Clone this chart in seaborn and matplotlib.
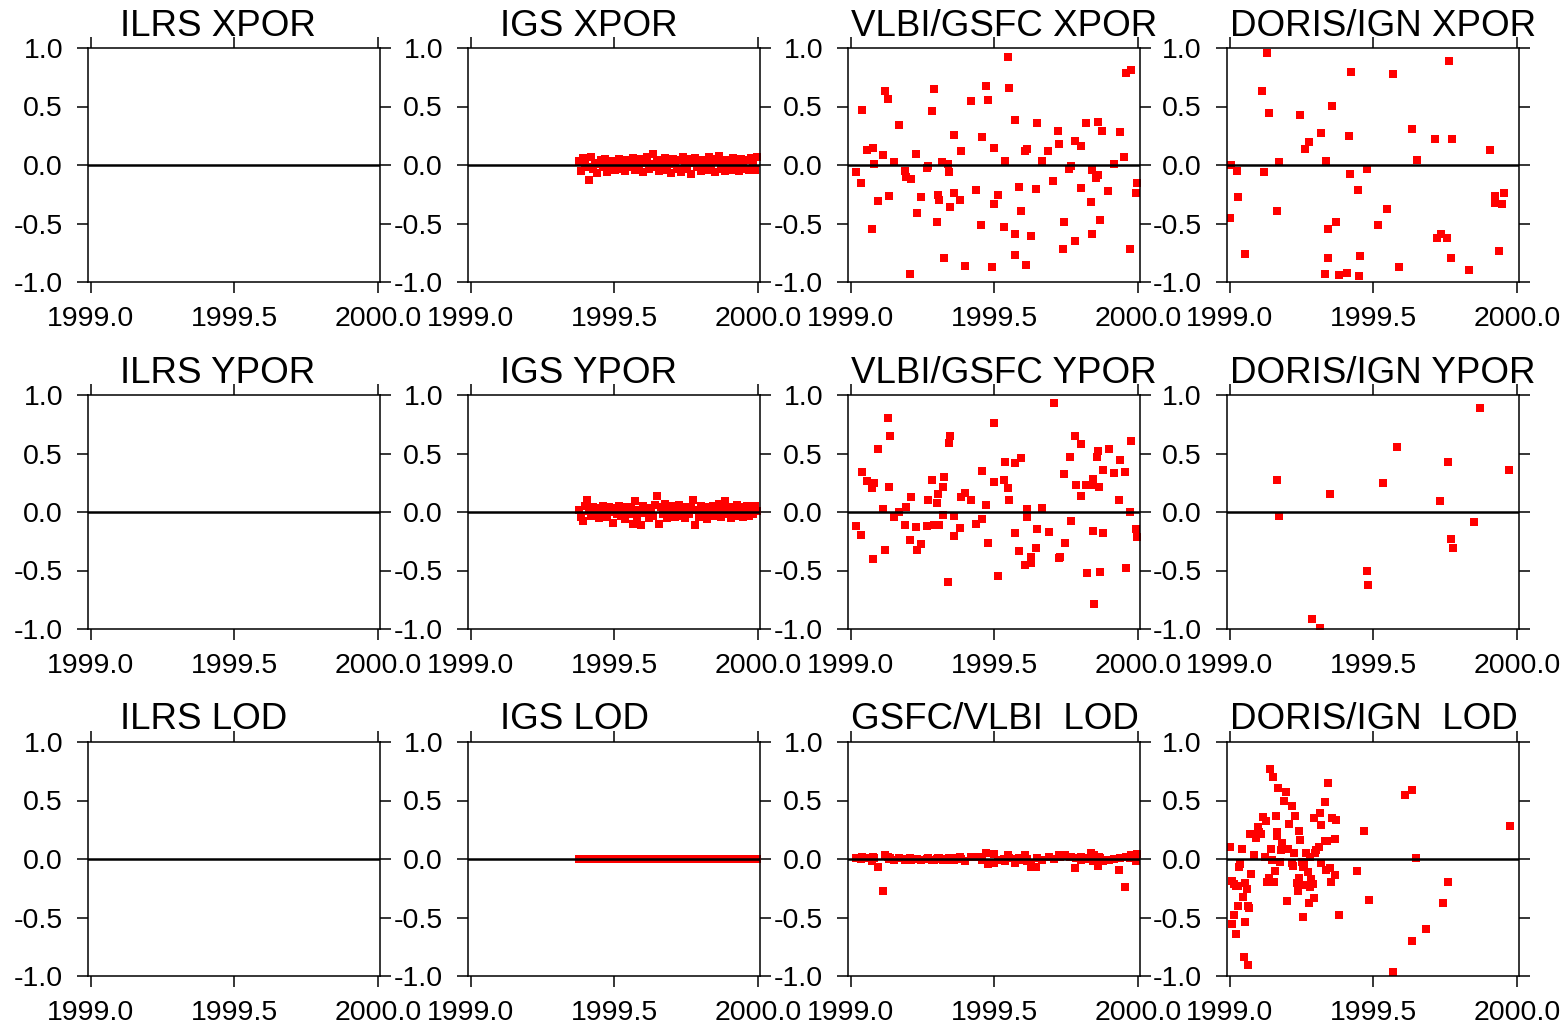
import matplotlib
matplotlib.use("Agg")
import matplotlib.pyplot as plt
import seaborn as sns

# ---------------- data ----------------
x_ticks = [1999.0, 1999.5, 2000.0]
x_tick_labels = ["1999.0", "1999.5", "2000.0"]
y_ticks = [-1.0, -0.5, 0.0, 0.5, 1.0]
y_tick_labels = ["-1.0", "-0.5", "0.0", "0.5", "1.0"]

titles = [
    ["ILRS XPOR", "IGS XPOR", "VLBI/GSFC XPOR", "DORIS/IGN XPOR"],
    ["ILRS YPOR", "IGS YPOR", "VLBI/GSFC YPOR", "DORIS/IGN YPOR"],
    ["ILRS LOD", "IGS LOD", "GSFC/VLBI  LOD", "DORIS/IGN  LOD"],
]

igs_t = [
    1999.375, 1999.382, 1999.389, 1999.396, 1999.403, 1999.410, 1999.417, 1999.424, 1999.431, 1999.438,
    1999.445, 1999.452, 1999.459, 1999.466, 1999.473, 1999.480, 1999.487, 1999.494, 1999.501, 1999.508,
    1999.515, 1999.522, 1999.529, 1999.536, 1999.543, 1999.550, 1999.557, 1999.564, 1999.571, 1999.578,
    1999.585, 1999.592, 1999.599, 1999.606, 1999.613, 1999.620, 1999.627, 1999.634, 1999.641, 1999.648,
    1999.655, 1999.662, 1999.669, 1999.676, 1999.683, 1999.690, 1999.697, 1999.704, 1999.711, 1999.718,
    1999.725, 1999.732, 1999.739, 1999.746, 1999.753, 1999.760, 1999.767, 1999.774, 1999.781, 1999.788,
    1999.795, 1999.802, 1999.809, 1999.816, 1999.823, 1999.830, 1999.837, 1999.844, 1999.851, 1999.858,
    1999.865, 1999.872, 1999.879, 1999.886, 1999.893, 1999.900, 1999.907, 1999.914, 1999.921, 1999.928,
    1999.935, 1999.942, 1999.949, 1999.956, 1999.963, 1999.970, 1999.977, 1999.984, 1999.991, 1999.998,
]
igs_xpor = [
    0.03, -0.05, 0.06, 0.01, -0.02, -0.13, 0.07, -0.03, 0.02, -0.07,
    0.01, 0.04, -0.02, 0.05, -0.06, 0.02, -0.01, 0.03, -0.04, 0.01,
    0.05, -0.03, 0.02, -0.05, 0.04, 0.00, -0.02, 0.06, -0.04, 0.03,
    -0.01, 0.05, -0.06, 0.02, 0.07, -0.03, 0.01, 0.09, -0.02, 0.04,
    -0.05, 0.03, -0.01, 0.06, -0.04, 0.02, -0.07, 0.05, 0.01, -0.03,
    0.04, -0.06, 0.07, 0.00, -0.03, 0.05, -0.08, 0.02, 0.06, -0.02,
    0.03, -0.05, 0.04, 0.01, -0.04, 0.07, -0.02, 0.05, -0.06, 0.03,
    0.08, -0.03, 0.02, -0.05, 0.04, 0.01, -0.04, 0.06, -0.02, 0.03,
    -0.05, 0.05, 0.00, -0.03, 0.04, -0.04, 0.06, 0.02, -0.04, 0.07,
]
igs_ypor = [
    0.02, -0.04, -0.08, 0.05, 0.10, 0.01, -0.03, 0.04, -0.02, 0.03,
    -0.05, 0.02, 0.05, -0.01, -0.04, 0.04, 0.00, -0.09, 0.03, -0.02,
    0.05, -0.03, 0.01, -0.06, 0.04, -0.02, 0.03, -0.10, 0.09, -0.04,
    0.02, -0.11, 0.05, -0.01, 0.03, -0.05, 0.02, -0.03, 0.06, 0.14,
    -0.10, 0.04, -0.02, 0.07, -0.05, 0.03, -0.01, 0.05, -0.04, 0.02,
    0.06, -0.03, 0.01, -0.05, 0.04, -0.02, 0.03, 0.10, -0.11, 0.02,
    -0.04, 0.05, -0.01, 0.03, -0.06, 0.04, -0.02, 0.05, -0.03, 0.01,
    0.07, -0.04, 0.03, 0.09, -0.02, 0.04, -0.05, 0.02, -0.03, 0.06,
    -0.01, 0.04, -0.04, 0.02, 0.05, -0.03, 0.03, -0.02, 0.05, 0.01,
]
igs_lod = [
    0.0, 0.0, 0.0, 0.0, 0.0, 0.0, 0.0, 0.0, 0.0, 0.0,
    0.0, 0.0, 0.0, 0.0, 0.0, 0.0, 0.0, 0.0, 0.0, 0.0,
    0.0, 0.0, 0.0, 0.0, 0.0, 0.0, 0.0, 0.0, 0.0, 0.0,
    0.0, 0.0, 0.0, 0.0, 0.0, 0.0, 0.0, 0.0, 0.0, 0.0,
    0.0, 0.0, 0.0, 0.0, 0.0, 0.0, 0.0, 0.0, 0.0, 0.0,
    0.0, 0.0, 0.0, 0.0, 0.0, 0.0, 0.0, 0.0, 0.0, 0.0,
    0.0, 0.0, 0.0, 0.0, 0.0, 0.0, 0.0, 0.0, 0.0, 0.0,
    0.0, 0.0, 0.0, 0.0, 0.0, 0.0, 0.0, 0.0, 0.0, 0.0,
    0.0, 0.0, 0.0, 0.0, 0.0, 0.0, 0.0, 0.0, 0.0, 0.0,
]

vlbi_xpor_t = [
    1999.017, 1999.035, 1999.038, 1999.055, 1999.076, 1999.081, 1999.073, 1999.093, 1999.112, 1999.119,
    1999.129, 1999.133, 1999.150, 1999.168, 1999.188, 1999.191, 1999.209, 1999.206, 1999.226, 1999.230,
    1999.245, 1999.266, 1999.269, 1999.282, 1999.289, 1999.300, 1999.304, 1999.307, 1999.319, 1999.324,
    1999.338, 1999.341, 1999.346, 1999.359, 1999.360, 1999.381, 1999.383, 1999.399, 1999.418, 1999.436,
    1999.453, 1999.457, 1999.471, 1999.476, 1999.492, 1999.497, 1999.500, 1999.513, 1999.534, 1999.538,
    1999.548, 1999.551, 1999.571, 1999.573, 1999.573, 1999.587, 1999.591, 1999.608, 1999.613, 1999.611,
    1999.629, 1999.646, 1999.649, 1999.667, 1999.688, 1999.705, 1999.723, 1999.726, 1999.740, 1999.744,
    1999.761, 1999.765, 1999.779, 1999.782, 1999.800, 1999.800, 1999.819, 1999.838, 1999.841, 1999.841,
    1999.855, 1999.859, 1999.862, 1999.866, 1999.876, 1999.897, 1999.915, 1999.936, 1999.953, 1999.957,
    1999.971, 1999.974, 1999.992, 1999.995,
]
vlbi_xpor = [
    -0.063, -0.157, 0.474, 0.126, 0.146, 0.006, -0.551, -0.306, 0.083, 0.631,
    0.56, -0.269, 0.026, 0.34, -0.054, -0.1, -0.123, -0.929, 0.091, -0.406,
    -0.277, -0.029, -0.011, 0.46, 0.649, -0.491, -0.257, -0.303, 0.023, -0.791,
    0.006, -0.063, -0.363, 0.254, -0.243, -0.303, 0.117, -0.86, 0.546, -0.217,
    -0.517, 0.237, 0.674, 0.554, -0.869, 0.143, -0.337, -0.26, -0.526, 0.037,
    0.923, 0.657, -0.766, -0.586, 0.383, -0.191, -0.397, 0.117, 0.134, -0.851,
    -0.611, -0.209, 0.357, 0.037, 0.117, -0.14, 0.289, 0.177, -0.714, -0.483,
    -0.037, -0.011, -0.646, 0.203, -0.2, 0.16, 0.357, -0.32, -0.586, -0.046,
    -0.114, 0.366, -0.089, -0.466, 0.294, -0.226, 0.006, 0.28, 0.066, 0.786,
    -0.714, 0.811, -0.243, -0.157,
]

vlbi_ypor_t = [
    1999.017, 1999.035, 1999.038, 1999.055, 1999.073, 1999.081, 1999.077, 1999.093, 1999.112, 1999.119,
    1999.129, 1999.133, 1999.136, 1999.150, 1999.168, 1999.189, 1999.192, 1999.206, 1999.209, 1999.227,
    1999.231, 1999.245, 1999.266, 1999.269, 1999.283, 1999.288, 1999.301, 1999.304, 1999.308, 1999.320,
    1999.322, 1999.324, 1999.339, 1999.343, 1999.346, 1999.360, 1999.360, 1999.381, 1999.385, 1999.399,
    1999.420, 1999.437, 1999.455, 1999.458, 1999.472, 1999.476, 1999.497, 1999.500, 1999.513, 1999.534,
    1999.538, 1999.548, 1999.551, 1999.570, 1999.573, 1999.586, 1999.591, 1999.608, 1999.612, 1999.615,
    1999.626, 1999.629, 1999.646, 1999.650, 1999.667, 1999.689, 1999.706, 1999.724, 1999.727, 1999.741,
    1999.745, 1999.762, 1999.766, 1999.780, 1999.783, 1999.801, 1999.801, 1999.822, 1999.818, 1999.836,
    1999.843, 1999.843, 1999.846, 1999.857, 1999.860, 1999.864, 1999.867, 1999.878, 1999.878, 1999.899,
    1999.916, 1999.934, 1999.937, 1999.955, 1999.958, 1999.972, 1999.976, 1999.993, 1999.997,
]
vlbi_ypor = [
    -0.12, -0.197, 0.343, 0.266, 0.206, 0.249, -0.403, 0.54, 0.026, -0.326,
    0.806, 0.214, 0.651, -0.043, 0.0, -0.111, 0.043, -0.24, 0.129, -0.129,
    -0.326, -0.274, -0.12, 0.103, 0.274, -0.111, 0.077, 0.154, -0.111, 0.214,
    -0.026, 0.3, -0.6, 0.591, 0.651, -0.206, -0.034, -0.137, 0.129, 0.163,
    0.103, -0.103, 0.351, -0.06, 0.06, -0.266, 0.257, 0.763, -0.549, 0.274,
    0.429, 0.206, 0.103, -0.18, 0.42, -0.334, 0.46, -0.454, -0.043, 0.026,
    -0.386, -0.437, -0.309, -0.146, 0.034, -0.171, 0.934, -0.394, -0.386, 0.326,
    -0.266, 0.471, -0.077, 0.651, 0.231, 0.583, 0.137, -0.523, 0.231, 0.231,
    0.283, -0.163, -0.789, 0.471, 0.523, 0.214, -0.514, 0.36, -0.18, 0.54,
    0.334, 0.103, 0.446, 0.343, -0.48, 0.0, 0.609, -0.146, -0.214,
]
vlbi_lod = [
    0.01, 0.00, 0.02, 0.01, -0.02, 0.01, 0.02, -0.07, -0.27, 0.03,
    0.02, 0.00, 0.01, -0.01, 0.01, -0.01, 0.00, 0.01, -0.01, 0.00,
    0.00, -0.01, 0.00, 0.01, -0.01, -0.01, 0.00, 0.01, 0.01, -0.01,
    0.00, 0.00, -0.01, 0.01, 0.00, -0.01, 0.01, 0.02, 0.00, -0.02,
    0.02, 0.02, 0.02, -0.01, 0.05, -0.04, 0.04, -0.03, -0.01, 0.00,
    -0.02, 0.03, 0.01, -0.03, 0.00, 0.01, -0.01, 0.03, -0.02, 0.00,
    -0.07, -0.03, -0.07, 0.01, -0.01, 0.02, 0.00, 0.03, 0.02, 0.03,
    0.03, 0.02, 0.02, -0.08, 0.01, 0.02, -0.01, 0.01, 0.00, 0.05,
    0.01, -0.02, 0.03, 0.00, -0.06, 0.02, 0.01, -0.01, -0.02, -0.01,
    0.00, -0.09, 0.01, -0.24, 0.02, 0.01, 0.03, -0.02, 0.04,
]

doris_xpor_t = [
    1999.005, 1999.002, 1999.024, 1999.030, 1999.052, 1999.112, 1999.119, 1999.129, 1999.136, 1999.164,
    1999.171, 1999.244, 1999.262, 1999.276, 1999.317, 1999.331, 1999.335, 1999.342, 1999.342, 1999.356,
    1999.370, 1999.381, 1999.408, 1999.415, 1999.419, 1999.422, 1999.447, 1999.450, 1999.453, 1999.478,
    1999.516, 1999.548, 1999.569, 1999.590, 1999.635, 1999.652, 1999.715, 1999.722, 1999.736, 1999.757,
    1999.764, 1999.771, 1999.774, 1999.834, 1999.907, 1999.924, 1999.924, 1999.938, 1999.949, 1999.956,
]
doris_xpor = [
    -0.003, -0.449, -0.054, -0.277, -0.757, 0.631, -0.063, 0.957, 0.443, -0.397,
    0.023, 0.426, 0.134, 0.194, 0.271, -0.929, 0.031, -0.551, -0.791, 0.503,
    -0.483, -0.937, -0.92, 0.246, -0.08, 0.794, -0.217, -0.946, -0.774, -0.037,
    -0.509, -0.38, 0.777, -0.869, 0.306, 0.04, 0.22, -0.62, -0.594, -0.62,
    0.889, -0.791, 0.22, -0.894, 0.126, -0.269, -0.329, -0.731, -0.337, -0.243,
]

doris_ypor_t = [
    1999.164, 1999.171, 1999.286, 1999.314, 1999.349, 1999.478, 1999.481, 1999.534,
    1999.583, 1999.733, 1999.760, 1999.771, 1999.778, 1999.851, 1999.872, 1999.973,
]
doris_ypor = [
    0.274, -0.034, -0.917, -0.994, 0.154, -0.506, -0.626, 0.249,
    0.557, 0.094, 0.429, -0.231, -0.309, -0.086, 0.891, 0.36,
]

doris_lod_t = [
    1999.002, 1999.006, 1999.013, 1999.009, 1999.014, 1999.021, 1999.023, 1999.028, 1999.030, 1999.031,
    1999.035, 1999.042, 1999.045, 1999.049, 1999.052, 1999.052, 1999.058, 1999.062, 1999.063, 1999.066,
    1999.070, 1999.073, 1999.080, 1999.084, 1999.091, 1999.098, 1999.101, 1999.108, 1999.115, 1999.122,
    1999.126, 1999.129, 1999.136, 1999.140, 1999.143, 1999.147, 1999.150, 1999.154, 1999.157, 1999.160,
    1999.164, 1999.164, 1999.167, 1999.174, 1999.178, 1999.181, 1999.188, 1999.195, 1999.199, 1999.202,
    1999.206, 1999.216, 1999.216, 1999.220, 1999.223, 1999.227, 1999.234, 1999.237, 1999.241, 1999.241,
    1999.244, 1999.251, 1999.255, 1999.255, 1999.258, 1999.262, 1999.265, 1999.272, 1999.276, 1999.279,
    1999.279, 1999.283, 1999.290, 1999.292, 1999.293, 1999.297, 1999.300, 1999.310, 1999.314, 1999.317,
    1999.317, 1999.331, 1999.335, 1999.331, 1999.338, 1999.342, 1999.349, 1999.352, 1999.356, 1999.366,
    1999.366, 1999.370, 1999.380, 1999.443, 1999.467, 1999.485, 1999.569, 1999.610, 1999.635, 1999.635,
    1999.649, 1999.684, 1999.743, 1999.760, 1999.977,
]
doris_lod = [
    0.106, -0.186, -0.211, -0.554, -0.477, -0.64, -0.229, -0.4, -0.229, -0.066,
    -0.04, 0.089, -0.323, -0.837, -0.203, -0.537, -0.254, -0.4, -0.906, -0.417,
    0.217, -0.126, 0.217, 0.037, 0.183, 0.277, 0.234, 0.217, 0.363, 0.02,
    0.329, -0.194, -0.16, 0.766, 0.089, -0.009, 0.697, -0.194, -0.1, 0.371,
    0.234, 0.2, 0.611, -0.023, 0.08, 0.14, 0.5, 0.569, -0.357, 0.089,
    0.303, 0.457, -0.031, -0.057, 0.054, 0.371, -0.203, -0.271, 0.243, -0.16,
    0.166, -0.023, -0.066, -0.494, -0.04, -0.22, 0.054, -0.109, -0.374, -0.237,
    0.02, -0.169, -0.211, 0.354, -0.331, 0.054, 0.08, 0.106, 0.389, 0.294,
    -0.031, 0.483, -0.091, 0.157, 0.157, 0.646, -0.074, -0.194, 0.354, 0.174,
    -0.134, 0.337, -0.477, -0.1, 0.243, -0.349, -0.966, 0.543, 0.594, -0.7,
    0.011, -0.597, -0.374, -0.194, 0.286,
]

series = [
    [None, (igs_t, igs_xpor), (vlbi_xpor_t, vlbi_xpor), (doris_xpor_t, doris_xpor)],
    [None, (igs_t, igs_ypor), (vlbi_ypor_t, vlbi_ypor), (doris_ypor_t, doris_ypor)],
    [None, (igs_t, igs_lod), (vlbi_ypor_t, vlbi_lod), (doris_lod_t, doris_lod)],
]

# ---------------- layout ----------------
sns.set_theme(style="ticks")
plt.rcParams["font.family"] = ["Liberation Sans", "DejaVu Sans"]

W, H = 1564, 1024
fig = plt.figure(figsize=(W / 100, H / 100), dpi=100)
fig.patch.set_facecolor("white")

col_left = [88, 468, 848, 1227]
row_top = [48, 395, 742]
pw, ph = 292, 234
title_x = [120, 500, 851, 1230]
title_base = [36, 383, 729]

for r in range(3):
    for c in range(4):
        ax = fig.add_axes([col_left[c] / W, (H - row_top[r] - ph) / H, pw / W, ph / H])
        ax.set_facecolor("white")
        data = series[r][c]
        if data is not None:
            sns.scatterplot(x=data[0], y=data[1], ax=ax, marker="s", color="#ff0000",
                            s=31, linewidth=0, legend=False, zorder=2)
        ax.axhline(0, color="black", lw=1.8, zorder=3)
        ax.set_xlim(1998.99, 2000.007)
        ax.set_ylim(-1.0, 1.0)
        ax.set_xticks(x_ticks)
        ax.set_xticklabels(x_tick_labels)
        ax.set_yticks(y_ticks)
        ax.set_yticklabels(y_tick_labels)
        ax.set_xlabel("")
        ax.set_ylabel("")
        ax.grid(False)
        ax.tick_params(axis="both", direction="out", length=8, width=1.1,
                       color="black", labelsize=20.5, labelcolor="black")
        ax.tick_params(axis="x", top=True, bottom=True, labeltop=False, pad=9)
        ax.tick_params(axis="y", left=True, right=True, labelright=False, pad=10)
        for sp in ax.spines.values():
            sp.set_visible(True)
            sp.set_linewidth(1.1)
            sp.set_color("black")
        fig.text(title_x[c] / W, 1 - title_base[r] / H, titles[r][c],
                 fontsize=26.5, ha="left", va="baseline", color="black")

fig.savefig("out.png", dpi=100, facecolor="white")
